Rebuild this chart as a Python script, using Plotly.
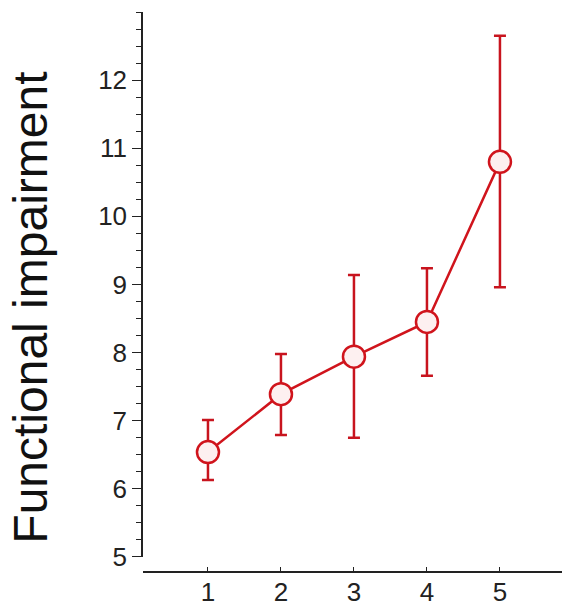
import plotly.graph_objects as go

groups = [1, 2, 3, 4, 5]
means = [6.54, 7.39, 7.94, 8.45, 10.80]
upper = [7.01, 7.98, 9.14, 9.24, 12.65]
lower = [6.13, 6.79, 6.75, 7.66, 8.96]
y_title = "Functional impairment"

err_plus = [u - m for u, m in zip(upper, means)]
err_minus = [m - l for m, l in zip(means, lower)]

red = "#d0141c"

fig = go.Figure()
fig.add_trace(go.Scatter(
    x=groups, y=means, mode="lines+markers",
    line=dict(color=red, width=2.5),
    marker=dict(size=22, color="#fdf0f0", line=dict(color=red, width=2.5)),
    error_y=dict(type="data", symmetric=False, array=err_plus, arrayminus=err_minus,
                 color="#c8141e", thickness=2.5, width=6),
    showlegend=False,
))

fig.update_layout(
    width=562, height=609,
    margin=dict(l=143, r=0, t=12, b=37),
    plot_bgcolor="white", paper_bgcolor="white",
    font=dict(family="Liberation Sans, Arial, sans-serif", color="#222"),
    xaxis=dict(range=[0.11, 5.85], tickvals=groups, showline=True, linecolor="#222",
               linewidth=1.5, ticks="inside", ticklen=4, tickcolor="#222",
               showgrid=False, zeroline=False, tickfont=dict(size=26),
               anchor="free", position=0, automargin=False, ticklabelstandoff=-3),
    yaxis=dict(range=[5, 13], domain=[0.0268, 1], tickvals=[5, 6, 7, 8, 9, 10, 11, 12],
               showline=True, linecolor="#222", linewidth=1.5,
               ticks="outside", ticklen=9, tickcolor="#222",
               minor=dict(dtick=0.25, ticks="outside", ticklen=5, tickcolor="#222", showgrid=False),
               showgrid=False, zeroline=False, tickfont=dict(size=26), automargin=False),
    annotations=[dict(text=y_title, xref="paper", yref="paper", x=0, y=0.472,
                      xshift=-112, xanchor="center", yanchor="middle", textangle=-90,
                      showarrow=False, font=dict(size=48, color="#111"))],
)

fig.write_html("out.html", config={"displayModeBar": False},
               post_script="document.body.style.margin='0';document.body.style.overflow='hidden';")
